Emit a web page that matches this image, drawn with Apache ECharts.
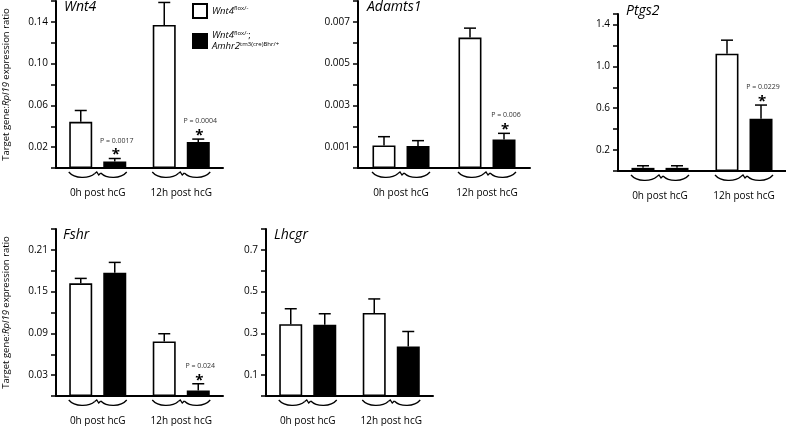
<!DOCTYPE html>
<html>
<head>
<meta charset="utf-8">
<script src="https://cdn.jsdelivr.net/npm/echarts@6/dist/echarts.min.js"></script>
<style>html,body{margin:0;padding:0;background:#fff;}#c{width:786px;height:426px;}</style>
</head>
<body>
<div id="c"></div>
<script>
// ---- data ----
const categories = ['0h post hcG', '12h post hcG'];
const genes = ['Wnt4', 'Adamts1', 'Ptgs2', 'Fshr', 'Lhcgr'];
const seriesNames = ['wt', 'ko'];
const wtMean = [[0.0442, 0.137], [0.00108, 0.00625], [0.03, 1.12], [0.162, 0.0785], [0.344, 0.398]];
const wtSem  = [[0.0109, 0.0216], [0.00042, 0.00045], [0.02, 0.13], [0.007, 0.011], [0.074, 0.067]];
const koMean = [[0.0063, 0.025], [0.00105, 0.00136], [0.03, 0.50], [0.177, 0.008], [0.341, 0.237]];
const koSem  = [[0.0028, 0.0027], [0.00026, 0.0003], [0.02, 0.13], [0.015, 0.0096], [0.053, 0.072]];
const pLabels = [['P = 0.0017', 'P = 0.0004'], [null, 'P = 0.006'], [null, 'P = 0.0229'], [null, 'P = 0.024'], [null, null]];
const yMax = [0.16, 0.008, 1.5, 0.24, 0.8];
const yStep = [0.02, 0.001, 0.2, 0.03, 0.1];
const tickLabels = [
  ['0.02', '0.06', '0.10', '0.14'],
  ['0.001', '0.003', '0.005', '0.007'],
  ['0.2', '0.6', '1.0', '1.4'],
  ['0.03', '0.09', '0.15', '0.21'],
  ['0.1', '0.3', '0.5', '0.7']
];
const yAxisTitle = 'Target gene:{i|Rpl19} expression ratio';

// ---- layout / style ----
const FONT = "'Open Sans', 'Noto Sans', sans-serif";
const grids = [
  { left: 55, top: 1, width: 168, height: 167 },
  { left: 358, top: 1, width: 172, height: 167 },
  { left: 618, top: 14, width: 168, height: 157 },
  { left: 55, top: 229, width: 168, height: 168 },
  { left: 266, top: 229, width: 167, height: 168 }
];
const titlePos = [[64, 0], [367, 0], [626, 4], [63, 228], [274, 228]];
const showYName = [true, false, false, true, false];
const BAR_W = 23, HALF_SEP = 17;

const chart = echarts.init(document.getElementById('c'), null, { renderer: 'canvas' });

const xAxes = [], yAxes = [], series = [], titles = [];
genes.forEach((g, k) => {
  titles.push({
    text: g, left: titlePos[k][0], top: titlePos[k][1], padding: 0,
    textStyle: { fontFamily: FONT, fontSize: 14, fontStyle: 'italic', fontWeight: 'normal', color: '#000' }
  });
  xAxes.push({
    type: 'category', gridIndex: k, data: categories,
    axisLine: { lineStyle: { color: '#000', width: 2 } },
    axisTick: { show: false },
    axisLabel: { margin: 20, fontFamily: FONT, fontSize: 10, color: '#000' }
  });
  const labs = tickLabels[k];
  const dec = labs[0].split('.')[1].length;
  yAxes.push({
    type: 'value', gridIndex: k, min: 0, max: yMax[k], interval: yStep[k],
    splitLine: { show: false },
    axisLine: { show: true, lineStyle: { color: '#000', width: 2 } },
    axisTick: { show: true, length: 5, lineStyle: { color: '#000', width: 1.5 } },
    axisLabel: {
      margin: 8, fontFamily: FONT, fontSize: 10, color: '#000',
      formatter: v => { const s = v.toFixed(dec); return labs.includes(s) ? s : ''; }
    },
    name: showYName[k] ? yAxisTitle : '',
    nameLocation: 'middle', nameGap: 45, nameRotate: 90,
    nameTextStyle: { fontFamily: FONT, fontSize: 9.5, color: '#000', rich: { i: { fontFamily: FONT, fontSize: 9.5, fontStyle: 'italic', color: '#000' } } }
  });
  const means = [wtMean[k], koMean[k]];
  const sems = [wtSem[k], koSem[k]];
  [0, 1].forEach(s => {
    series.push({
      name: seriesNames[s], type: 'bar', xAxisIndex: k, yAxisIndex: k,
      data: means[s], barWidth: BAR_W, barGap: '48%',
      itemStyle: { color: s === 0 ? '#fff' : '#000', borderColor: '#000', borderWidth: 1.6 },
      emphasis: { disabled: true }, animation: false
    });
  });
  [0, 1].forEach(s => {
    const data = categories.map((c, i) => [i, means[s][i], means[s][i] + sems[s][i]]);
    series.push({
      type: 'custom', xAxisIndex: k, yAxisIndex: k, clip: false, z: 5, silent: true, animation: false,
      data: data,
      renderItem: (params, api) => {
        const i = api.value(0);
        const p0 = api.coord([i, api.value(1)]);
        const p1 = api.coord([i, api.value(2)]);
        const x = p0[0] + (s === 0 ? -HALF_SEP : HALF_SEP);
        const children = [
          { type: 'line', shape: { x1: x, y1: p0[1], x2: x, y2: p1[1] }, style: { stroke: '#000', lineWidth: 1.5 } },
          { type: 'line', shape: { x1: x - 6, y1: p1[1], x2: x + 6, y2: p1[1] }, style: { stroke: '#000', lineWidth: 1.5 } }
        ];
        const p = s === 1 ? pLabels[k][i] : null;
        if (p) {
          children.push({ type: 'text', style: { text: '*', x: x + 1, y: p1[1] - 3.5, textAlign: 'center', textVerticalAlign: 'middle', fontFamily: FONT, fontSize: 15, fontWeight: 'bold', fill: '#000' } });
          children.push({ type: 'text', style: { text: p, x: x + 2, y: p1[1] - 18, textAlign: 'center', textVerticalAlign: 'middle', fontFamily: FONT, fontSize: 7, fill: '#333' } });
        }
        return { type: 'group', children };
      }
    });
  });
  // braces under each group
  series.push({
    type: 'custom', xAxisIndex: k, yAxisIndex: k, clip: false, silent: true, animation: false,
    data: categories.map((c, i) => [i, 0]),
    renderItem: (params, api) => {
      const c = api.coord([api.value(0), 0]);
      const cx = c[0], y0 = c[1] + 4, w = 29, h = 5;
      const st = { stroke: '#000', lineWidth: 1.3, fill: 'none' };
      return {
        type: 'group', children: [
          { type: 'bezierCurve', shape: { x1: cx - w, y1: y0, x2: cx - 3, y2: y0 + 1.5, cpx1: cx - w + 6, cpy1: y0 + h * 1.4, cpx2: cx - 9, cpy2: y0 + h * 1.4 }, style: st },
          { type: 'polyline', shape: { points: [[cx - 3, y0 + 1.5], [cx - 1, y0], [cx + 1, y0 + 3], [cx + 3, y0 + 1]] }, style: st },
          { type: 'bezierCurve', shape: { x1: cx + 3, y1: y0 + 1, x2: cx + w, y2: y0, cpx1: cx + 9, cpy1: y0 + h * 1.4, cpx2: cx + w - 6, cpy2: y0 + h * 1.4 }, style: st }
        ]
      };
    }
  });
});

chart.setOption({
  animation: false,
  title: titles,
  grid: grids,
  xAxis: xAxes,
  yAxis: yAxes,
  legend: {
    data: seriesNames, orient: 'vertical', left: 192, top: 3, padding: 0,
    itemWidth: 14, itemHeight: 14, itemGap: 11, selectedMode: false,
    icon: 'rect',
    formatter: name => name === 'wt'
      ? '{i|Wnt4}{s|flox/-}'
      : '{i|Wnt4}{s|flox/-};\n{i|Amhr2}{s|tm3(cre)Bhr/+}',
    textStyle: {
      fontFamily: FONT, fontSize: 9.5, color: '#000', lineHeight: 11,
      rich: {
        i: { fontFamily: FONT, fontSize: 9.5, fontStyle: 'italic', color: '#000', lineHeight: 11 },
        s: { fontFamily: FONT, fontSize: 6, color: '#000', verticalAlign: 'top', lineHeight: 8 }
      }
    }
  },
  series: series
});
</script>
</body>
</html>
